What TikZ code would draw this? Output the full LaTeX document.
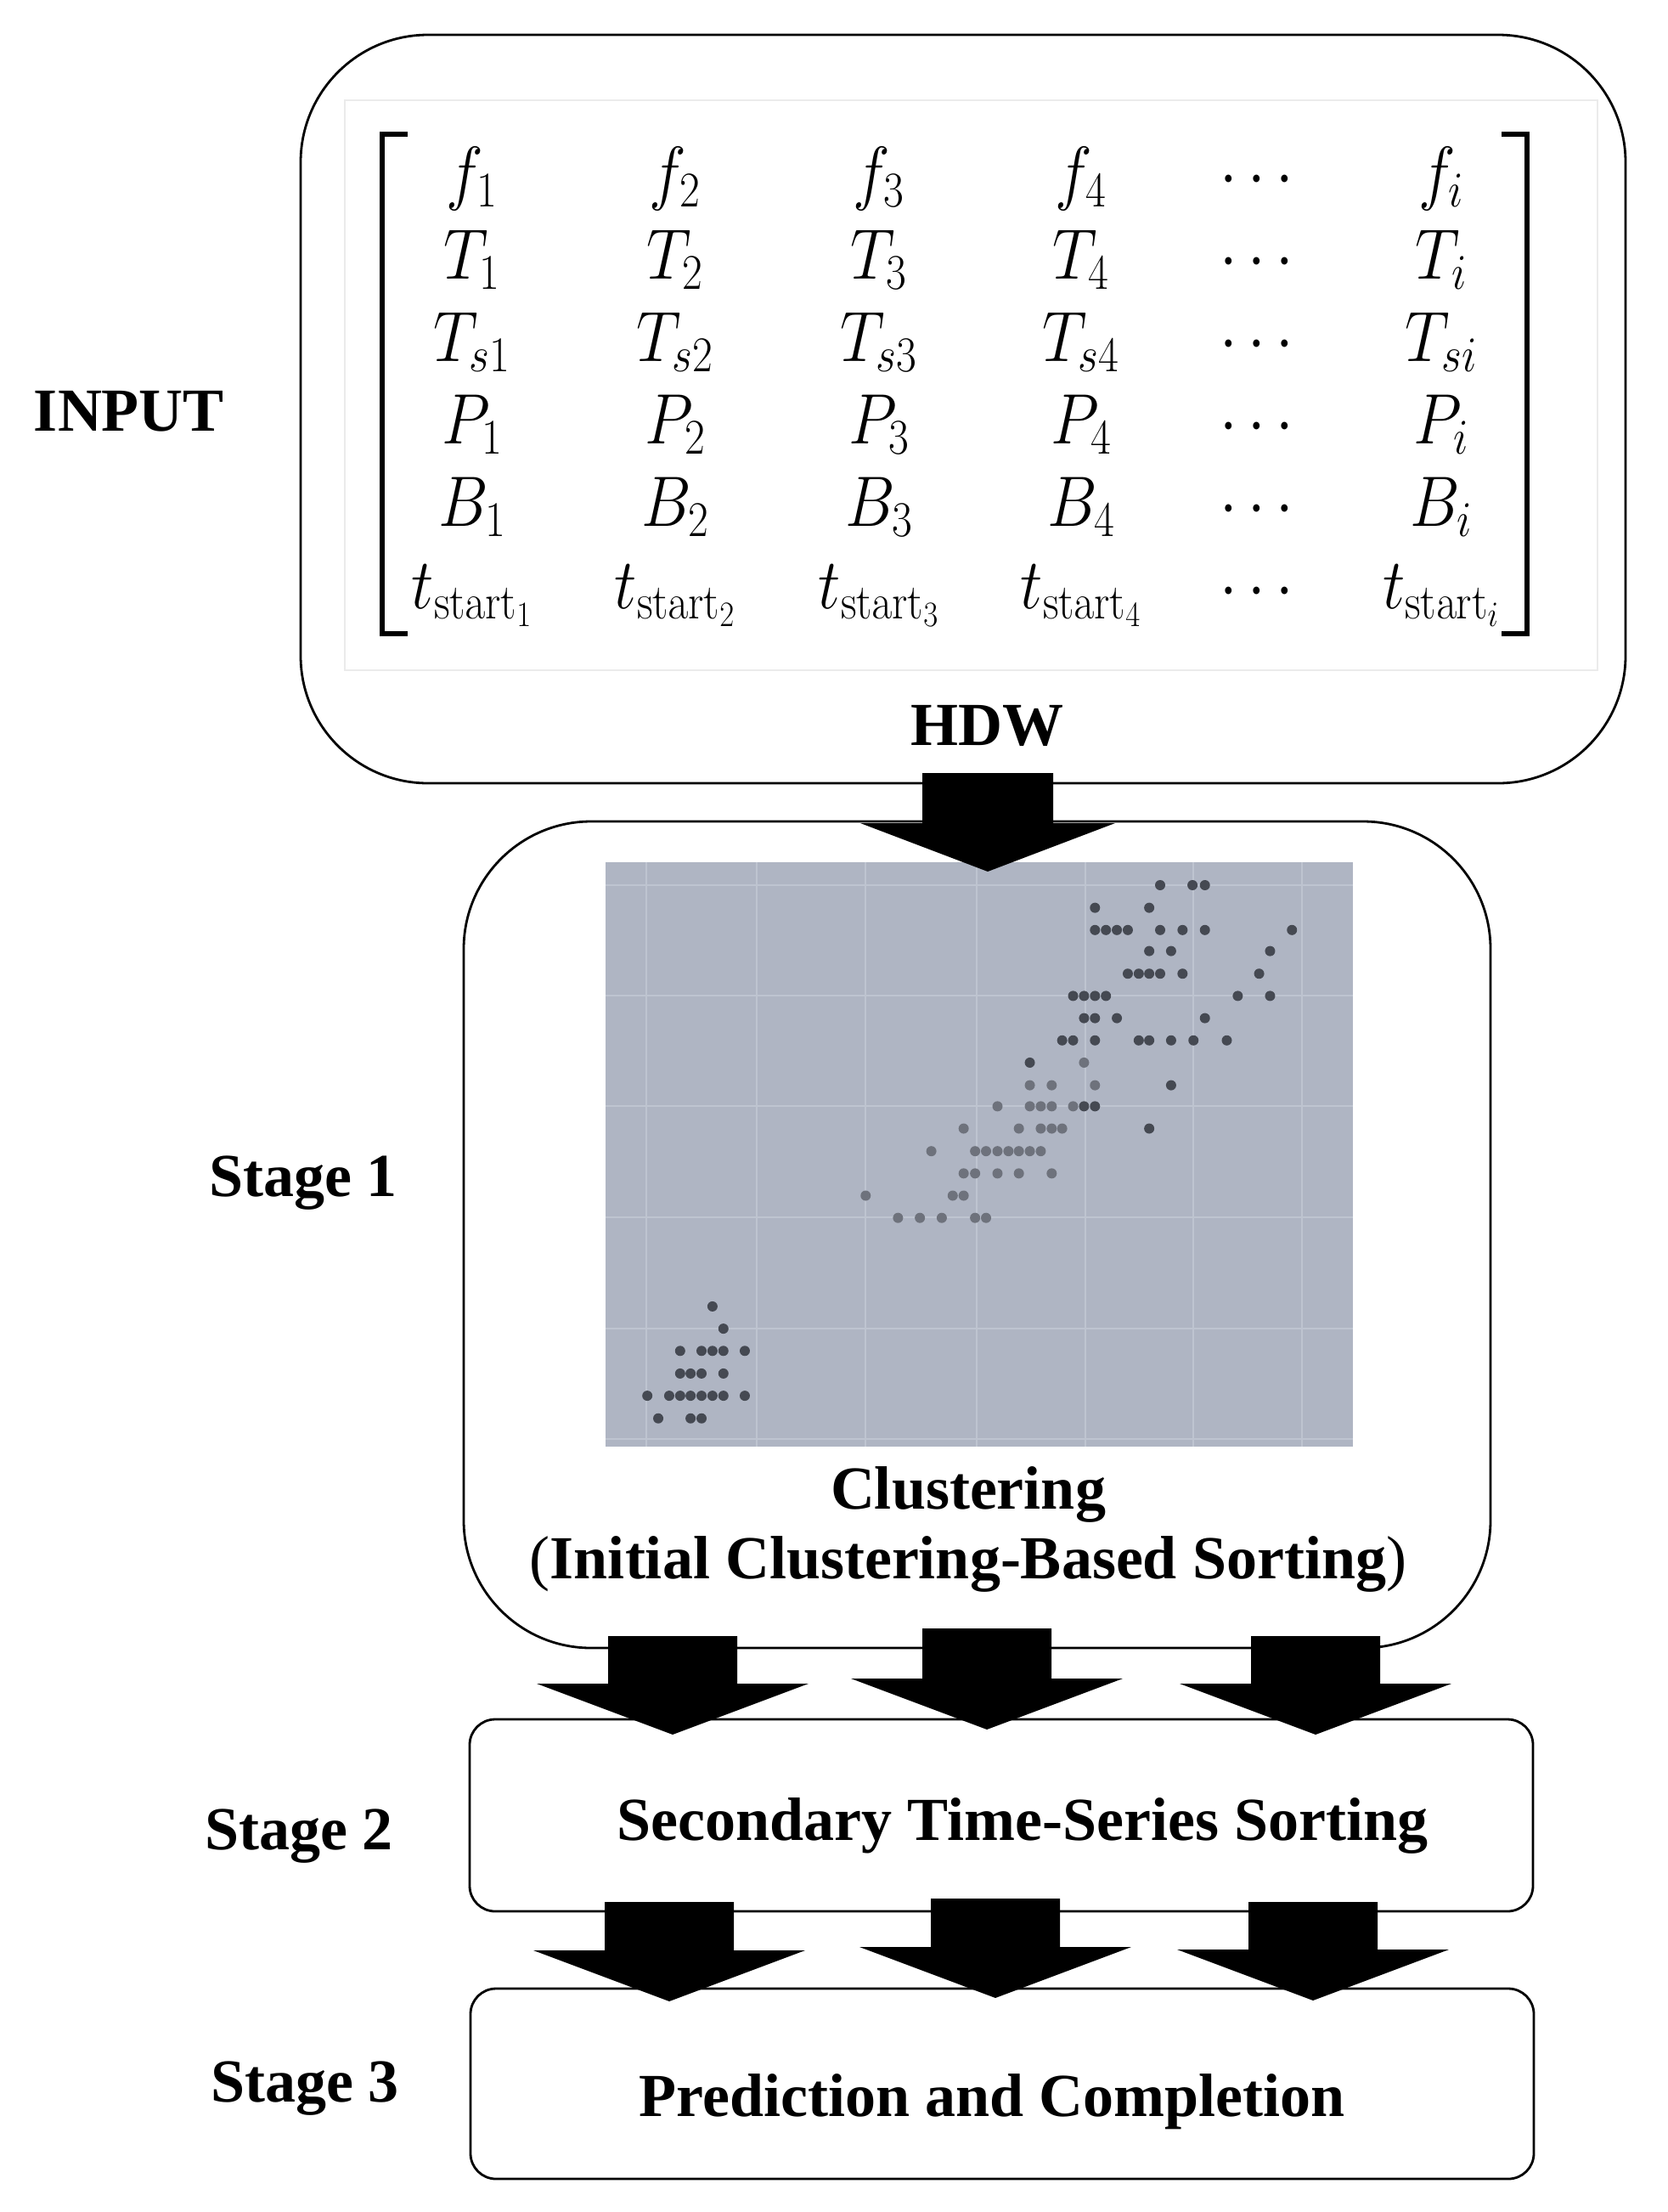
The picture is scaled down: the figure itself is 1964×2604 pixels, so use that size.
\RequirePackage{fix-cm}
\documentclass[tikz,border=0pt]{standalone}
\usepackage[no-math]{fontspec}
\usepackage{graphicx}
\newfontfamily\tnr{Liberation Serif}
\definecolor{plotbg}{HTML}{AFB5C3}
\definecolor{gridc}{HTML}{BEC4D0}
\definecolor{dotD}{HTML}{454952}
\definecolor{dotG}{HTML}{6E727C}
\tikzset{
  rbox/.style={draw, line width=1.4pt, rounded corners=#1, inner sep=0pt},
  lbl/.style={font=\tnr\bfseries\fontsize{36}{43}\selectfont, anchor=base, inner sep=0pt},
  mat/.style={font=\fontsize{42}{50}\selectfont, anchor=base, inner sep=0pt},
  brk/.style={line width=3pt},
  gridline/.style={gridc, line width=1pt},
}
\newcommand\mx[1]{\scalebox{0.88}[1]{$#1$}}
\newcommand\matrow[8]{%
  \node[mat] (m#1-1) at (556,#2) {\mx{#3}};
  \node[mat] (m#1-2) at (795,#2) {\mx{#4}};
  \node[mat] (m#1-3) at (1035,#2) {\mx{#5}};
  \node[mat] (m#1-4) at (1273,#2) {\mx{#6}};
  \node[mat] (m#1-5) at (1480,#2) {\mx{#7}};
  \node[mat] (m#1-6) at (1697,#2) {\mx{#8}};}
\newcommand\blockarrow[5]{%
  \fill[black] ([xshift=-#3]#1) -- ([xshift=-#3,yshift=#5]#2) -- ([xshift=-#4,yshift=#5]#2) -- (#2)
   -- ([xshift=#4,yshift=#5]#2) -- ([xshift=#3,yshift=#5]#2) -- ([xshift=#3]#1) -- cycle;}
\begin{document}
\begin{tikzpicture}[x=0.5pt,y=-0.5pt]
\useasboundingbox (0,0) rectangle (1964,2604);
% boxes
\node[rbox=75pt, minimum width=780pt, minimum height=440.5pt] (inbox) at (1134,481.5) {};
\node[rbox=75pt, minimum width=604.5pt, minimum height=486.5pt] (s1box) at (1150.5,1453.5) {};
\node[rbox=15pt, minimum width=626pt, minimum height=113pt] (s2box) at (1179,2137) {};
\node[rbox=15pt, minimum width=626pt, minimum height=112pt] (s3box) at (1180,2453) {};
% matrix panel
\draw[black!8, line width=1pt, fill=white] (406,118) rectangle (1881,789);
\matrow{1}{231}{f_1}{f_2}{f_3}{f_4}{\cdots}{f_i}
\matrow{2}{328}{T_1}{T_2}{T_3}{T_4}{\cdots}{T_i}
\matrow{3}{425}{T_{s1}}{T_{s2}}{T_{s3}}{T_{s4}}{\cdots}{T_{si}}
\matrow{4}{522}{P_1}{P_2}{P_3}{P_4}{\cdots}{P_i}
\matrow{5}{619}{B_1}{B_2}{B_3}{B_4}{\cdots}{B_i}
\matrow{6}{716}{t_{\mathrm{start}_1}}{t_{\mathrm{start}_2}}{t_{\mathrm{start}_3}}{t_{\mathrm{start}_4}}{\cdots}{t_{\mathrm{start}_i}}
\draw[brk] (480,158) -- (450,158) -- (450,746) -- (480,746);
\draw[brk] (1768,158) -- (1798,158) -- (1798,746) -- (1768,746);
% scatter plot
\node[fill=plotbg, minimum width=440pt, minimum height=344pt, inner sep=0pt] (plot) at (1153,1359) {};
\foreach \gx in {761,891,1019,1150,1278,1405,1533} \draw[gridline] (\gx,1015) -- (\gx,1703);
\foreach \gy in {1042,1172,1302,1433,1564,1694} \draw[gridline] (713,\gy) -- (1593,\gy);
\begin{scope}[shift={(701.26,989.18)}, x={(0.29285pt,0pt)}, y={(0pt,-0.2337pt)}]
\foreach \p in {(1135,113),(1200,113),(1225,113),
(1004,170),(1113,170),
(1004,226),(1026,226),(1048,226),(1070,226),(1135,226),(1180,226),(1225,226),(1400,226),
(1113,279),(1157,279),(1356,279),
(1070,336),(1092,336),(1113,336),(1135,336),(1180,336),(1334,336),
(960,392),(982,392),(1004,392),(1026,392),(1291,392),(1356,392),
(982,448),(1004,448),(1048,448),(1225,448),
(938,504),(960,504),(1004,504),(1092,504),(1113,504),(1157,504),(1202,504),(1269,504),
(873,560),(1157,617),(982,670),(1004,670),(1113,726),
(235,1174),(257,1230),
(170,1286),(213,1286),(235,1286),(257,1286),(300,1286),
(170,1343),(191,1343),(213,1343),(257,1343),
(104,1399),(148,1399),(170,1399),(191,1399),(213,1399),(235,1399),(257,1399),(300,1399),
(126,1456),(191,1456),(213,1456)}
  \fill[dotD] \p circle[radius=3pt];
\foreach \p in {(982,560),
(873,617),(917,617),(1004,617),
(808,670),(873,670),(895,670),(917,670),(960,670),
(740,726),(851,726),(895,726),(917,726),(938,726),
(675,783),(763,783),(785,783),(808,783),(830,783),(851,783),(873,783),(895,783),
(740,839),(763,839),(808,839),(851,839),(917,839),
(543,895),(718,895),(740,895),
(608,951),(652,951),(696,951),(763,951),(785,951)}
  \fill[dotG] \p circle[radius=3pt];
\end{scope}
% labels
\node[lbl] (input) at (152,507) {INPUT};
\node[lbl] (hdw) at (1162,877) {HDW};
\node[lbl] (st1) at (357,1408) {Stage 1};
\node[lbl] (st2) at (352,2177) {Stage 2};
\node[lbl] (st3) at (359,2474) {Stage 3};
\node[lbl] (clu) at (1140,1776) {Clustering};
\node[lbl] (clu2) at (1140,1858) {\textmd{(}Initial Clustering-Based Sorting\textmd{)}};
\node[lbl] (sec) at (1204,2166) {Secondary Time-Series Sorting};
\node[lbl] (pred) at (1168,2491) {Prediction and Completion};
% arrows
\coordinate (a0s) at (1163,910);  \coordinate (a0t) at (1163,1026);
\coordinate (a1s) at (792,1926);  \coordinate (a1t) at (792,2042);
\coordinate (a2s) at (1162,1917); \coordinate (a2t) at (1162,2036);
\coordinate (a3s) at (1549,1926); \coordinate (a3t) at (1549,2042);
\coordinate (b1s) at (788,2239);  \coordinate (b1t) at (788,2356);
\coordinate (b2s) at (1172,2235); \coordinate (b2t) at (1172,2352);
\coordinate (b3s) at (1546,2239); \coordinate (b3t) at (1546,2355);
\blockarrow{a0s}{a0t}{38.5pt}{75pt}{28.5pt}
\blockarrow{a1s}{a1t}{38pt}{80pt}{30pt}
\blockarrow{a2s}{a2t}{38pt}{80pt}{30pt}
\blockarrow{a3s}{a3t}{38pt}{80pt}{30pt}
\blockarrow{b1s}{b1t}{38pt}{80pt}{30pt}
\blockarrow{b2s}{b2t}{38pt}{80pt}{30pt}
\blockarrow{b3s}{b3t}{38pt}{80pt}{30pt}
\end{tikzpicture}
\end{document}
